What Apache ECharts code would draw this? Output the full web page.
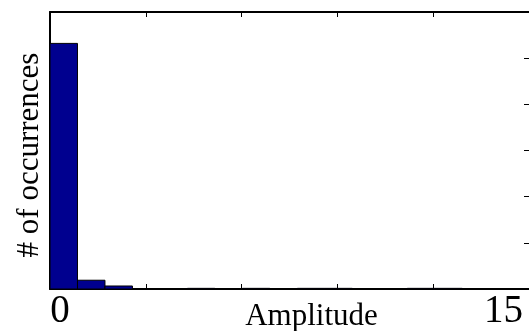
<!DOCTYPE html>
<html>
<head>
<meta charset="utf-8">
<script src="https://cdn.jsdelivr.net/npm/echarts@6/dist/echarts.min.js"></script>
<style>html,body{margin:0;padding:0;background:#fff;}#c{width:529px;height:331px;}</style>
</head>
<body>
<div id="c"></div>
<script>
// Histogram bins (bin index) and counts per bin
const binIndex = [0, 1, 2, 3, 4, 5, 6, 7, 8, 9, 10, 11, 12, 13, 14, 15, 16];
const counts   = [5320, 190, 65, 0, 0, 14, 0, 14, 0, 14, 14, 0, 0, 14, 14, 0, 0];
// Amplitude tick labels
const ampTickValues = [0, 15];
const xTitle = 'Amplitude';
const yTitle = '# of occurrences';

const FONT = 'Liberation Serif';
const chart = echarts.init(document.getElementById('c'), null, {renderer: 'canvas'});

const frameAxis = (pos) => ({
  type: 'value', position: pos, min: 0, max: 5, interval: 1,
  axisLine: {show: true, onZero: false, lineStyle: {color: '#000', width: 2}},
  axisTick: {show: true, inside: true, length: 5, lineStyle: {color: '#000', width: 1}},
  axisLabel: {show: false}, splitLine: {show: false}
});
const frameYAxis = (pos, showLine) => ({
  type: 'value', position: pos, min: 0, max: 6000, interval: 1000,
  axisLine: {show: showLine, onZero: false, lineStyle: {color: '#000', width: 2}},
  axisTick: {show: true, inside: true, length: 5, lineStyle: {color: '#000', width: 1}},
  axisLabel: {show: false}, splitLine: {show: false}
});

const option = {
  animation: false,
  backgroundColor: '#fff',
  grid: {left: 50, top: 12, width: 481, height: 280, containLabel: false},
  xAxis: [
    frameAxis('bottom'),
    frameAxis('top'),
    {
      type: 'value', position: 'bottom', min: -0.3367, max: 15.86,
      axisLine: {show: false, onZero: false}, axisTick: {show: false}, splitLine: {show: false},
      axisLabel: {show: true, customValues: ampTickValues, margin: 3,
        fontFamily: FONT, fontSize: 39, color: '#000',
        formatter: (v) => String(v)}
    },
    {
      type: 'value', position: 'bottom', min: 0, max: 17.43, show: false,
      axisLine: {onZero: false}
    }
  ],
  yAxis: [frameYAxis('left', true), frameYAxis('right', false)],
  graphic: [
    {type: 'text', x: 311.5, y: 316.5, style: {text: xTitle, font: '31px "Liberation Serif"', fill: '#000', align: 'center', verticalAlign: 'middle'}},
    {type: 'text', x: 30, y: 155, rotation: Math.PI / 2, style: {text: yTitle, font: '31px "Liberation Serif"', fill: '#000', align: 'center', verticalAlign: 'middle'}}
  ],
  series: [{
    type: 'custom',
    xAxisIndex: 3, yAxisIndex: 0,
    data: binIndex.map((b, i) => [b, b + 1, counts[i]]),
    renderItem: function (params, api) {
      const p0 = api.coord([api.value(0), api.value(2)]);
      const p1 = api.coord([api.value(1), 0]);
      return {
        type: 'rect',
        shape: {x: p0[0], y: p0[1], width: p1[0] - p0[0], height: p1[1] - p0[1]},
        style: {fill: '#00008F', stroke: '#000', lineWidth: 1}
      };
    }
  }]
};
chart.setOption(option);
</script>
</body>
</html>
